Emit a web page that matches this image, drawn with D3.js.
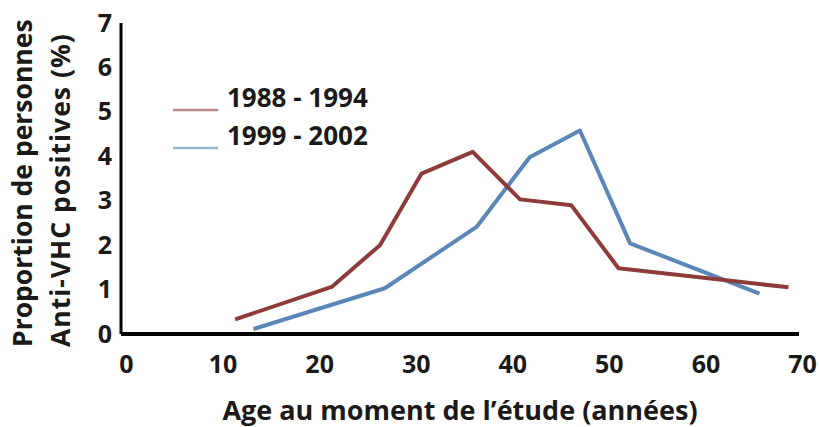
<!DOCTYPE html>
<html>
<head>
<meta charset="utf-8">
<script src="https://cdn.jsdelivr.net/npm/d3@7"></script>
<style>
    html, body { margin: 0; padding: 0; background: #fff; }
    text { font-family: "Open Sans", sans-serif; font-weight: 700; fill: #1a1a1a; }
</style>
</head>
<body>
<div id="chart"></div>
<script>
'use strict';

// data
var ageRed = [11.3, 21.3, 26.3, 30.6, 35.9, 40.8, 46.1, 51.0, 68.6];
var valRed = [0.33, 1.06, 2.0, 3.61, 4.10, 3.03, 2.90, 1.48, 1.05];
var ageBlue = [13.2, 26.8, 36.3, 41.8, 47.0, 52.2, 65.6];
var valBlue = [0.11, 1.03, 2.41, 3.98, 4.58, 2.04, 0.91];
var seriesNames = ['1988 - 1994', '1999 - 2002'];
var xTicks = [0, 10, 20, 30, 40, 50, 60, 70];
var yTicks = [0, 1, 2, 3, 4, 5, 6, 7];

(function() {
    const width = 819, height = 427;
    const colors = ['#8e3b3b', '#5a86b8'];

    var x = d3.scaleLinear().domain([0, 70]).range([126, 802]);
    var y = d3.scaleLinear().domain([0, 7]).range([334, 23]);

    var svg = d3.select('#chart').append('svg')
        .attr('width', width)
        .attr('height', height);

    // only the labels come from the axes, no tick marks
    var xAxis = svg.append('g')
        .attr('transform', 'translate(0,334)')
        .call(d3.axisBottom(x).tickValues(xTicks).tickFormat(d3.format('d')).tickSize(0));
    xAxis.select('.domain').remove();
    xAxis.selectAll('text')
        .style('font-size', '25px')
        .attr('y', 39).attr('dy', null);

    var yAxis = svg.append('g')
        .attr('transform', 'translate(112,0)')
        .call(d3.axisLeft(y).tickValues(yTicks).tickFormat(d3.format('d')).tickSize(0).tickPadding(0));
    yAxis.select('.domain').remove();
    yAxis.selectAll('text').style('font-size', '25px');

    svg.append('line')
        .attr('x1', x(0) - 5).attr('x2', 799)
        .attr('y1', y(0)).attr('y2', y(0))
        .attr('stroke', '#000').attr('stroke-width', 4);
    svg.append('line')
        .attr('x1', 121).attr('x2', 121)
        .attr('y1', y(7)).attr('y2', y(0))
        .attr('stroke', '#000').attr('stroke-width', 3);

    var line = d3.line()
        .x(function(d) { return x(d[0]) })
        .y(function(d) { return y(d[1]) });

    var series = [d3.zip(ageRed, valRed), d3.zip(ageBlue, valBlue)];
    // blue first so the red sits over it like in the source
    [1, 0].forEach(function(i) {
        svg.append('path')
            .datum(series[i])
            .attr('d', line)
            .attr('fill', 'none')
            .attr('stroke', colors[i])
            .attr('stroke-width', 4)
            .attr('stroke-linejoin', 'round');
    });

    // legend
    var legend = svg.append('g');
    seriesNames.forEach(function(name, i) {
        var ly = 110 + i * 38;
        legend.append('line')
            .attr('x1', 173).attr('x2', 218)
            .attr('y1', ly).attr('y2', ly)
            .attr('stroke', colors[i]).attr('stroke-width', 2.5)
            .attr('opacity', 0.6);
        legend.append('text')
            .attr('x', 227).attr('y', ly - 3)
            .style('font-size', '26px')
            .text(name);
    });

    // titles
    svg.append('text')
        .attr('x', 460).attr('y', 420)
        .attr('text-anchor', 'middle')
        .style('font-size', '27px')
        .text('Age au moment de l\u2019étude (années)');

    var yt = svg.append('text')
        .attr('transform', 'rotate(-90)')
        .style('font-size', '26.5px');
    yt.append('tspan').attr('x', -347).attr('y', 32).text('Proportion de personnes');
    yt.append('tspan').attr('x', -347).attr('y', 70)
        .style('letter-spacing', '1px')
        .text('Anti-VHC positives (%)');
})();
</script>
</body>
</html>
